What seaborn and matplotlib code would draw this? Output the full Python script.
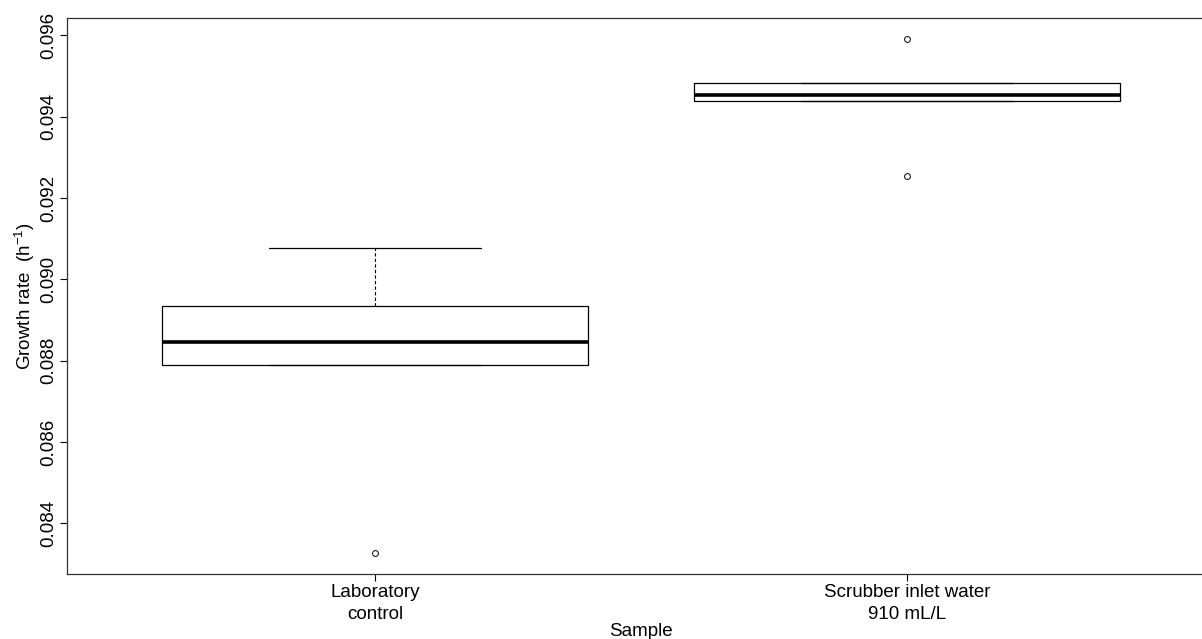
import numpy as np
import pandas as pd
import matplotlib
matplotlib.use("Agg")
import matplotlib.pyplot as plt
import seaborn as sns

# Growth rates per sample (h^-1)
samples = ["Laboratory\ncontrol", "Scrubber inlet water\n910 mL/L"]
lab_control = [0.08326, 0.08789, 0.08845, 0.08934, 0.09078]
scrubber_inlet = [0.09253, 0.09439, 0.09453, 0.09484, 0.09592]
y_ticks = [0.084, 0.086, 0.088, 0.090, 0.092, 0.094, 0.096]

df = pd.DataFrame({
    "Sample": [samples[0]] * len(lab_control) + [samples[1]] * len(scrubber_inlet),
    "Growth rate": lab_control + scrubber_inlet,
})

sns.set_style("ticks")
plt.rcParams["font.family"] = ["Liberation Sans", "DejaVu Sans"]
plt.rcParams["mathtext.fontset"] = "custom"
plt.rcParams["mathtext.rm"] = "Liberation Sans"
plt.rcParams["mathtext.it"] = "Liberation Sans:italic"
plt.rcParams["lines.scale_dashes"] = False
plt.rcParams["text.color"] = "black"
plt.rcParams["axes.labelcolor"] = "black"
plt.rcParams["xtick.color"] = "black"
plt.rcParams["ytick.color"] = "black"

W, H = 1202, 639
fig = plt.figure(figsize=(W / 100, H / 100), dpi=100)
ax = fig.add_axes([67 / W, 1 - 574 / H, (1215 - 67) / W, (574 - 18) / H])

sns.boxplot(
    data=df, x="Sample", y="Growth rate", order=samples, ax=ax,
    width=0.8, color="white", linecolor="black", linewidth=0.9,
    saturation=1, whis=1.5,
    medianprops=dict(linewidth=2.6, color="black"),
    whiskerprops=dict(linestyle=(0, (2.4, 1.6)), linewidth=0.8),
    capprops=dict(linewidth=0.9),
    flierprops=dict(marker="o", markersize=4.2, markerfacecolor="none",
                    markeredgecolor="black", markeredgewidth=0.7),
)

# Axis limits padded 4% beyond the data range
vals = np.array(lab_control + scrubber_inlet)
lo, hi = vals.min(), vals.max()
pad = 0.04 * (hi - lo)
ax.set_ylim(lo - pad, hi + pad)
ax.set_xlim(-0.579, 1.579)

fs = 13.5
ax.set_yticks(y_ticks)
ax.set_yticklabels([f"{t:.3f}" for t in y_ticks], rotation=90, va="center",
                   fontsize=fs, color="black")
ax.set_xticks(range(len(samples)))
ax.set_xticklabels(samples, fontsize=fs, linespacing=1.38, color="black")
ax.tick_params(axis="both", direction="out", length=5, width=0.8, color="black",
               left=True, bottom=True)
ax.tick_params(axis="y", pad=2)
ax.tick_params(axis="x", pad=2)

ax.set_xlabel("Sample", fontsize=fs, labelpad=0, color="black")
ax.set_ylabel(r"Growth rate  (h$^{-1}$)", fontsize=fs, labelpad=2, color="black")

for side in ["left", "right", "top", "bottom"]:
    ax.spines[side].set_visible(True)
    ax.spines[side].set_color("#333333")
    ax.spines[side].set_linewidth(0.9)

fig.savefig("out.png", dpi=100, facecolor="white")
